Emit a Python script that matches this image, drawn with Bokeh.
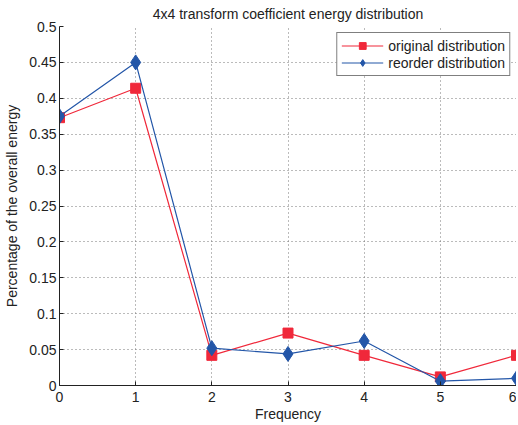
from bokeh.plotting import figure
from bokeh.models import Range1d, FixedTicker
from bokeh.embed import file_html
from bokeh.resources import INLINE

freq = [0, 1, 2, 3, 4, 5, 6]
original = [0.373, 0.414, 0.042, 0.073, 0.042, 0.012, 0.042]
reorder = [0.375, 0.450, 0.052, 0.044, 0.062, 0.006, 0.010]
x_ticks = [0, 1, 2, 3, 4, 5, 6]
y_ticks = [0, 0.05, 0.1, 0.15, 0.2, 0.25, 0.3, 0.35, 0.4, 0.45, 0.5]

FONT = "Liberation Sans"
RED = "#f0283a"
BLUE = "#2356a8"
TXT = "#222222"

p = figure(frame_width=457, frame_height=359, output_backend="svg", toolbar_location=None,
           x_range=Range1d(0, 6), y_range=Range1d(0, 0.5),
           min_border_left=59, min_border_right=0, min_border_top=26, min_border_bottom=34)

p.title.text = "4x4 transform coefficient energy distribution"
p.title.align = "center"
p.title.vertical_align = "top"
p.title.text_font = FONT
p.title.text_font_style = "normal"
p.title.text_font_size = "14px"
p.title.text_color = TXT
p.title.standoff = 6

p.line(freq, original, color=RED, line_width=1.2, legend_label="original distribution")
p.scatter(freq, original, marker="square", size=10, fill_color=RED, line_color=RED,
          legend_label="original distribution")
p.line(freq, reorder, color=BLUE, line_width=1.2, legend_label="reorder distribution")
p.scatter(freq, reorder, marker="diamond", size=15, fill_color=BLUE, line_color=BLUE,
          legend_label="reorder distribution")

for ax in (p.xaxis, p.yaxis):
    ax.axis_label_text_font = FONT
    ax.axis_label_text_font_style = "normal"
    ax.axis_label_text_font_size = "14px"
    ax.major_label_text_font = FONT
    ax.major_label_text_font_size = "14px"
    ax.major_label_text_color = TXT
    ax.axis_label_text_color = TXT
    ax.major_tick_in = 4
    ax.major_tick_out = 0
    ax.minor_tick_in = 0
    ax.minor_tick_out = 0
    ax.axis_line_color = TXT
    ax.major_tick_line_color = TXT
    ax.major_label_standoff = 3

p.xaxis.major_label_standoff = 6
p.xaxis.ticker = FixedTicker(ticks=x_ticks)
p.yaxis.ticker = FixedTicker(ticks=y_ticks)
p.yaxis.major_label_overrides = {0: "0", 0.1: "0.1", 0.2: "0.2", 0.3: "0.3", 0.4: "0.4", 0.5: "0.5"}
p.xaxis.axis_label = "Frequency"
p.yaxis.axis_label = "Percentage of the overall energy"
p.xaxis.axis_label_standoff = 1
p.yaxis.axis_label_standoff = 6

p.grid.grid_line_color = "#777777"
p.grid.grid_line_dash = "1 3"

p.outline_line_color = None

p.legend.location = "top_right"
p.legend.margin = 6
p.legend.padding = 4
p.legend.spacing = 0
p.legend.label_text_font = FONT
p.legend.label_text_font_size = "14px"
p.legend.label_text_color = TXT
p.legend.label_height = 17
p.legend.glyph_height = 17
p.legend.glyph_width = 42
p.legend.label_standoff = 5
p.legend.border_line_color = "black"
p.legend.border_line_width = 1.5
p.legend.background_fill_alpha = 1

p.background_fill_color = "white"
p.border_fill_color = "white"

open("out.html", "w").write(file_html(p, INLINE))
